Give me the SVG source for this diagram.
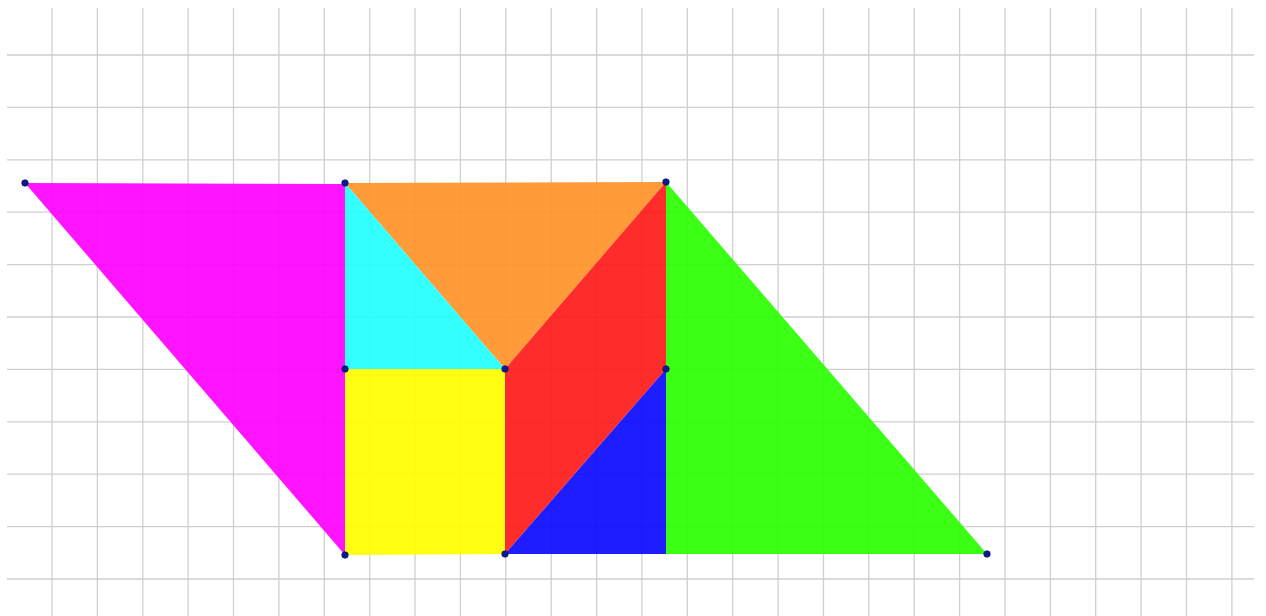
<svg xmlns="http://www.w3.org/2000/svg" width="1266" height="616" viewBox="0 0 1266 616">
<style>
.g line{stroke:#cfcfcf;stroke-width:1.3}
.p{fill-opacity:0.92;stroke:none}
.pt{fill:#0b1b8f;stroke:#06105a;stroke-width:0.6}
</style>
<rect width="1266" height="616" fill="#ffffff"/>
<g class="g" id="grid">
<line x1="52" y1="8" x2="52" y2="616"/>
<line x1="97.4" y1="8" x2="97.4" y2="616"/>
<line x1="142.8" y1="8" x2="142.8" y2="616"/>
<line x1="188.1" y1="8" x2="188.1" y2="616"/>
<line x1="233.5" y1="8" x2="233.5" y2="616"/>
<line x1="278.9" y1="8" x2="278.9" y2="616"/>
<line x1="324.3" y1="8" x2="324.3" y2="616"/>
<line x1="369.7" y1="8" x2="369.7" y2="616"/>
<line x1="415" y1="8" x2="415" y2="616"/>
<line x1="460.4" y1="8" x2="460.4" y2="616"/>
<line x1="505.8" y1="8" x2="505.8" y2="616"/>
<line x1="551.2" y1="8" x2="551.2" y2="616"/>
<line x1="596.6" y1="8" x2="596.6" y2="616"/>
<line x1="641.9" y1="8" x2="641.9" y2="616"/>
<line x1="687.3" y1="8" x2="687.3" y2="616"/>
<line x1="732.7" y1="8" x2="732.7" y2="616"/>
<line x1="778.1" y1="8" x2="778.1" y2="616"/>
<line x1="823.5" y1="8" x2="823.5" y2="616"/>
<line x1="868.8" y1="8" x2="868.8" y2="616"/>
<line x1="914.2" y1="8" x2="914.2" y2="616"/>
<line x1="959.6" y1="8" x2="959.6" y2="616"/>
<line x1="1005" y1="8" x2="1005" y2="616"/>
<line x1="1050.4" y1="8" x2="1050.4" y2="616"/>
<line x1="1095.7" y1="8" x2="1095.7" y2="616"/>
<line x1="1141.1" y1="8" x2="1141.1" y2="616"/>
<line x1="1186.5" y1="8" x2="1186.5" y2="616"/>
<line x1="1231.9" y1="8" x2="1231.9" y2="616"/>
<line x1="7" y1="55" x2="1254" y2="55"/>
<line x1="7" y1="107.4" x2="1254" y2="107.4"/>
<line x1="7" y1="159.8" x2="1254" y2="159.8"/>
<line x1="7" y1="212.2" x2="1254" y2="212.2"/>
<line x1="7" y1="264.6" x2="1254" y2="264.6"/>
<line x1="7" y1="317" x2="1254" y2="317"/>
<line x1="7" y1="369.4" x2="1254" y2="369.4"/>
<line x1="7" y1="421.8" x2="1254" y2="421.8"/>
<line x1="7" y1="474.2" x2="1254" y2="474.2"/>
<line x1="7" y1="526.6" x2="1254" y2="526.6"/>
<line x1="7" y1="579" x2="1254" y2="579"/>
</g>
<g id="pieces">
<polygon id="magenta" class="p" fill="#ff00ff" points="25,183 345,184 345,555"/>
<polygon id="orange" class="p" fill="#ff9228" points="345,183 666,182 505,369"/>
<polygon id="cyan" class="p" fill="#22ffff" points="345,183 505,369 345,369"/>
<polygon id="yellow" class="p" fill="#ffff00" points="345,369 505,369 505,554 345,555"/>
<polygon id="red" class="p" fill="#ff1a1a" points="505,369 666,182 666,369 505,554"/>
<polygon id="blue" class="p" fill="#0a0aff" points="505,554 666,369 666,554"/>
<polygon id="green" class="p" fill="#2aff00" points="666,182 987,554 666,554"/>
</g>
<g id="points">
<circle class="pt" cx="25" cy="183" r="3.3"/>
<circle class="pt" cx="345" cy="183" r="3.3"/>
<circle class="pt" cx="666" cy="182" r="3.3"/>
<circle class="pt" cx="505" cy="369" r="3.3"/>
<circle class="pt" cx="666" cy="369" r="3.3"/>
<circle class="pt" cx="345" cy="369" r="3.3"/>
<circle class="pt" cx="345" cy="555" r="3.3"/>
<circle class="pt" cx="505" cy="554" r="3.3"/>
<circle class="pt" cx="987" cy="554" r="3.3"/>
</g>
</svg>
